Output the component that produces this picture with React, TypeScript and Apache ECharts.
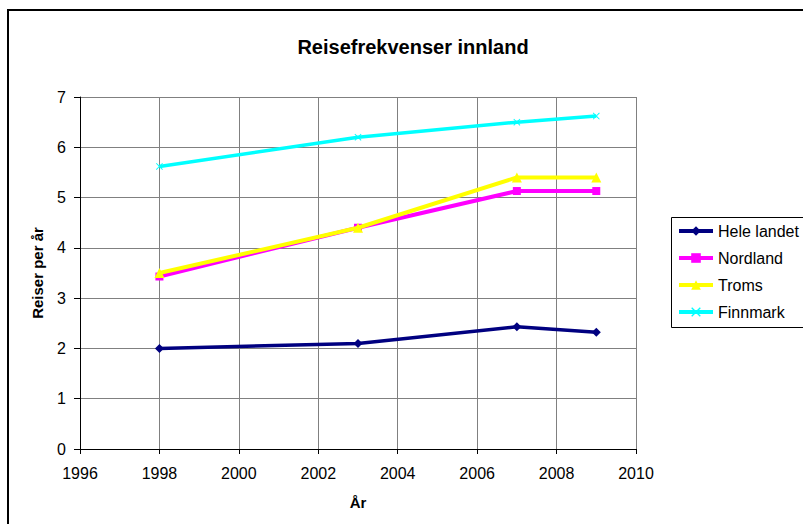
import React, { useEffect, useRef } from "react";
import * as echarts from "echarts";

const years = [1998, 2003, 2007, 2009];
const seriesNames = ["Hele landet", "Nordland", "Troms", "Finnmark"];
const heleLandet = [2.0, 2.1, 2.43, 2.32];
const nordland = [3.43, 4.4, 5.13, 5.13];
const troms = [3.5, 4.4, 5.4, 5.4];
const finnmark = [5.62, 6.2, 6.5, 6.62];
const colors = ["#000080", "#FF00FF", "#FFFF00", "#00FFFF"];
const titleText = "Reisefrekvenser innland";
const xName = "År";
const yName = "Reiser per år";

const FONT = "'Liberation Sans', Arial, sans-serif";
const X_SYMBOL = "path://M0,1 L1,0 L5,4 L9,0 L10,1 L6,5 L10,9 L9,10 L5,6 L1,10 L0,9 L4,5 Z";

export default function App() {
  const ref = useRef<HTMLDivElement>(null);
  useEffect(() => {
    if (!ref.current) return;
    const chart = echarts.init(ref.current, null, { renderer: "svg" });
    const allData = [heleLandet, nordland, troms, finnmark];
    const symbols = ["diamond", "rect", "triangle", X_SYMBOL];
    const symbolSizes = [9, 8, 10, 7];
    const widths = [3.5, 4, 4, 3.5];
    chart.setOption({
      animation: false,
      backgroundColor: "#ffffff",
      title: {
        text: titleText,
        left: 408,
        textAlign: "center",
        top: 32,
        textStyle: { fontFamily: FONT, fontSize: 20, fontWeight: "bold", color: "#000" },
      },
      graphic: [
        {
          type: "rect",
          shape: { x: 8, y: 10, width: 900, height: 700 },
          style: { fill: "none", stroke: "#000", lineWidth: 2 },
          silent: true,
        },
        {
          type: "rect",
          shape: { x: 671.5, y: 217.5, width: 300, height: 110 },
          style: { fill: "none", stroke: "#000", lineWidth: 1 },
          silent: true,
        },
      ],
      legend: {
        orient: "vertical",
        left: 677,
        top: 223,
        itemWidth: 34,
        itemHeight: 12,
        itemGap: 11,
        padding: 0,
        data: seriesNames,
        lineStyle: { width: 4 },
        textStyle: { fontFamily: FONT, fontSize: 16, color: "#000" },
      },
      grid: { left: 80, top: 97, width: 556, height: 352, containLabel: false },
      xAxis: {
        type: "value",
        min: 1996,
        max: 2010,
        interval: 2,
        name: xName,
        nameLocation: "middle",
        nameGap: 46,
        nameTextStyle: { fontFamily: FONT, fontSize: 15, fontWeight: "bold", color: "#000" },
        axisLine: { show: true, lineStyle: { color: "#000", width: 1 } },
        axisTick: { show: true, length: 5, lineStyle: { color: "#000" } },
        axisLabel: {
          fontFamily: FONT,
          fontSize: 16,
          color: "#000",
          margin: 16,
          formatter: (v: number) => String(v),
        },
        splitLine: { show: true, lineStyle: { color: "#808080", width: 1 } },
      },
      yAxis: {
        type: "value",
        min: 0,
        max: 7,
        interval: 1,
        name: yName,
        nameLocation: "middle",
        nameGap: 35,
        nameTextStyle: { fontFamily: FONT, fontSize: 15, fontWeight: "bold", color: "#000" },
        axisLine: { show: true, lineStyle: { color: "#000", width: 1 } },
        axisTick: { show: true, length: 6, lineStyle: { color: "#000" } },
        axisLabel: { fontFamily: FONT, fontSize: 16, color: "#000", margin: 14 },
        splitLine: { show: true, lineStyle: { color: "#808080", width: 1 } },
      },
      series: seriesNames.map((name, i) => ({
        name,
        type: "line",
        data: years.map((y, j) => [y, allData[i][j]]),
        symbol: symbols[i],
        symbolSize: symbolSizes[i],
        showSymbol: true,
        color: colors[i],
        itemStyle: { color: colors[i] },
        lineStyle: { color: colors[i], width: widths[i] },
        z: 2 + i,
      })),
    });
    return () => chart.dispose();
  }, []);
  return (
    <div
      ref={ref}
      style={{ position: "fixed", left: 0, top: 0, width: 803, height: 524 }}
    />
  );
}
